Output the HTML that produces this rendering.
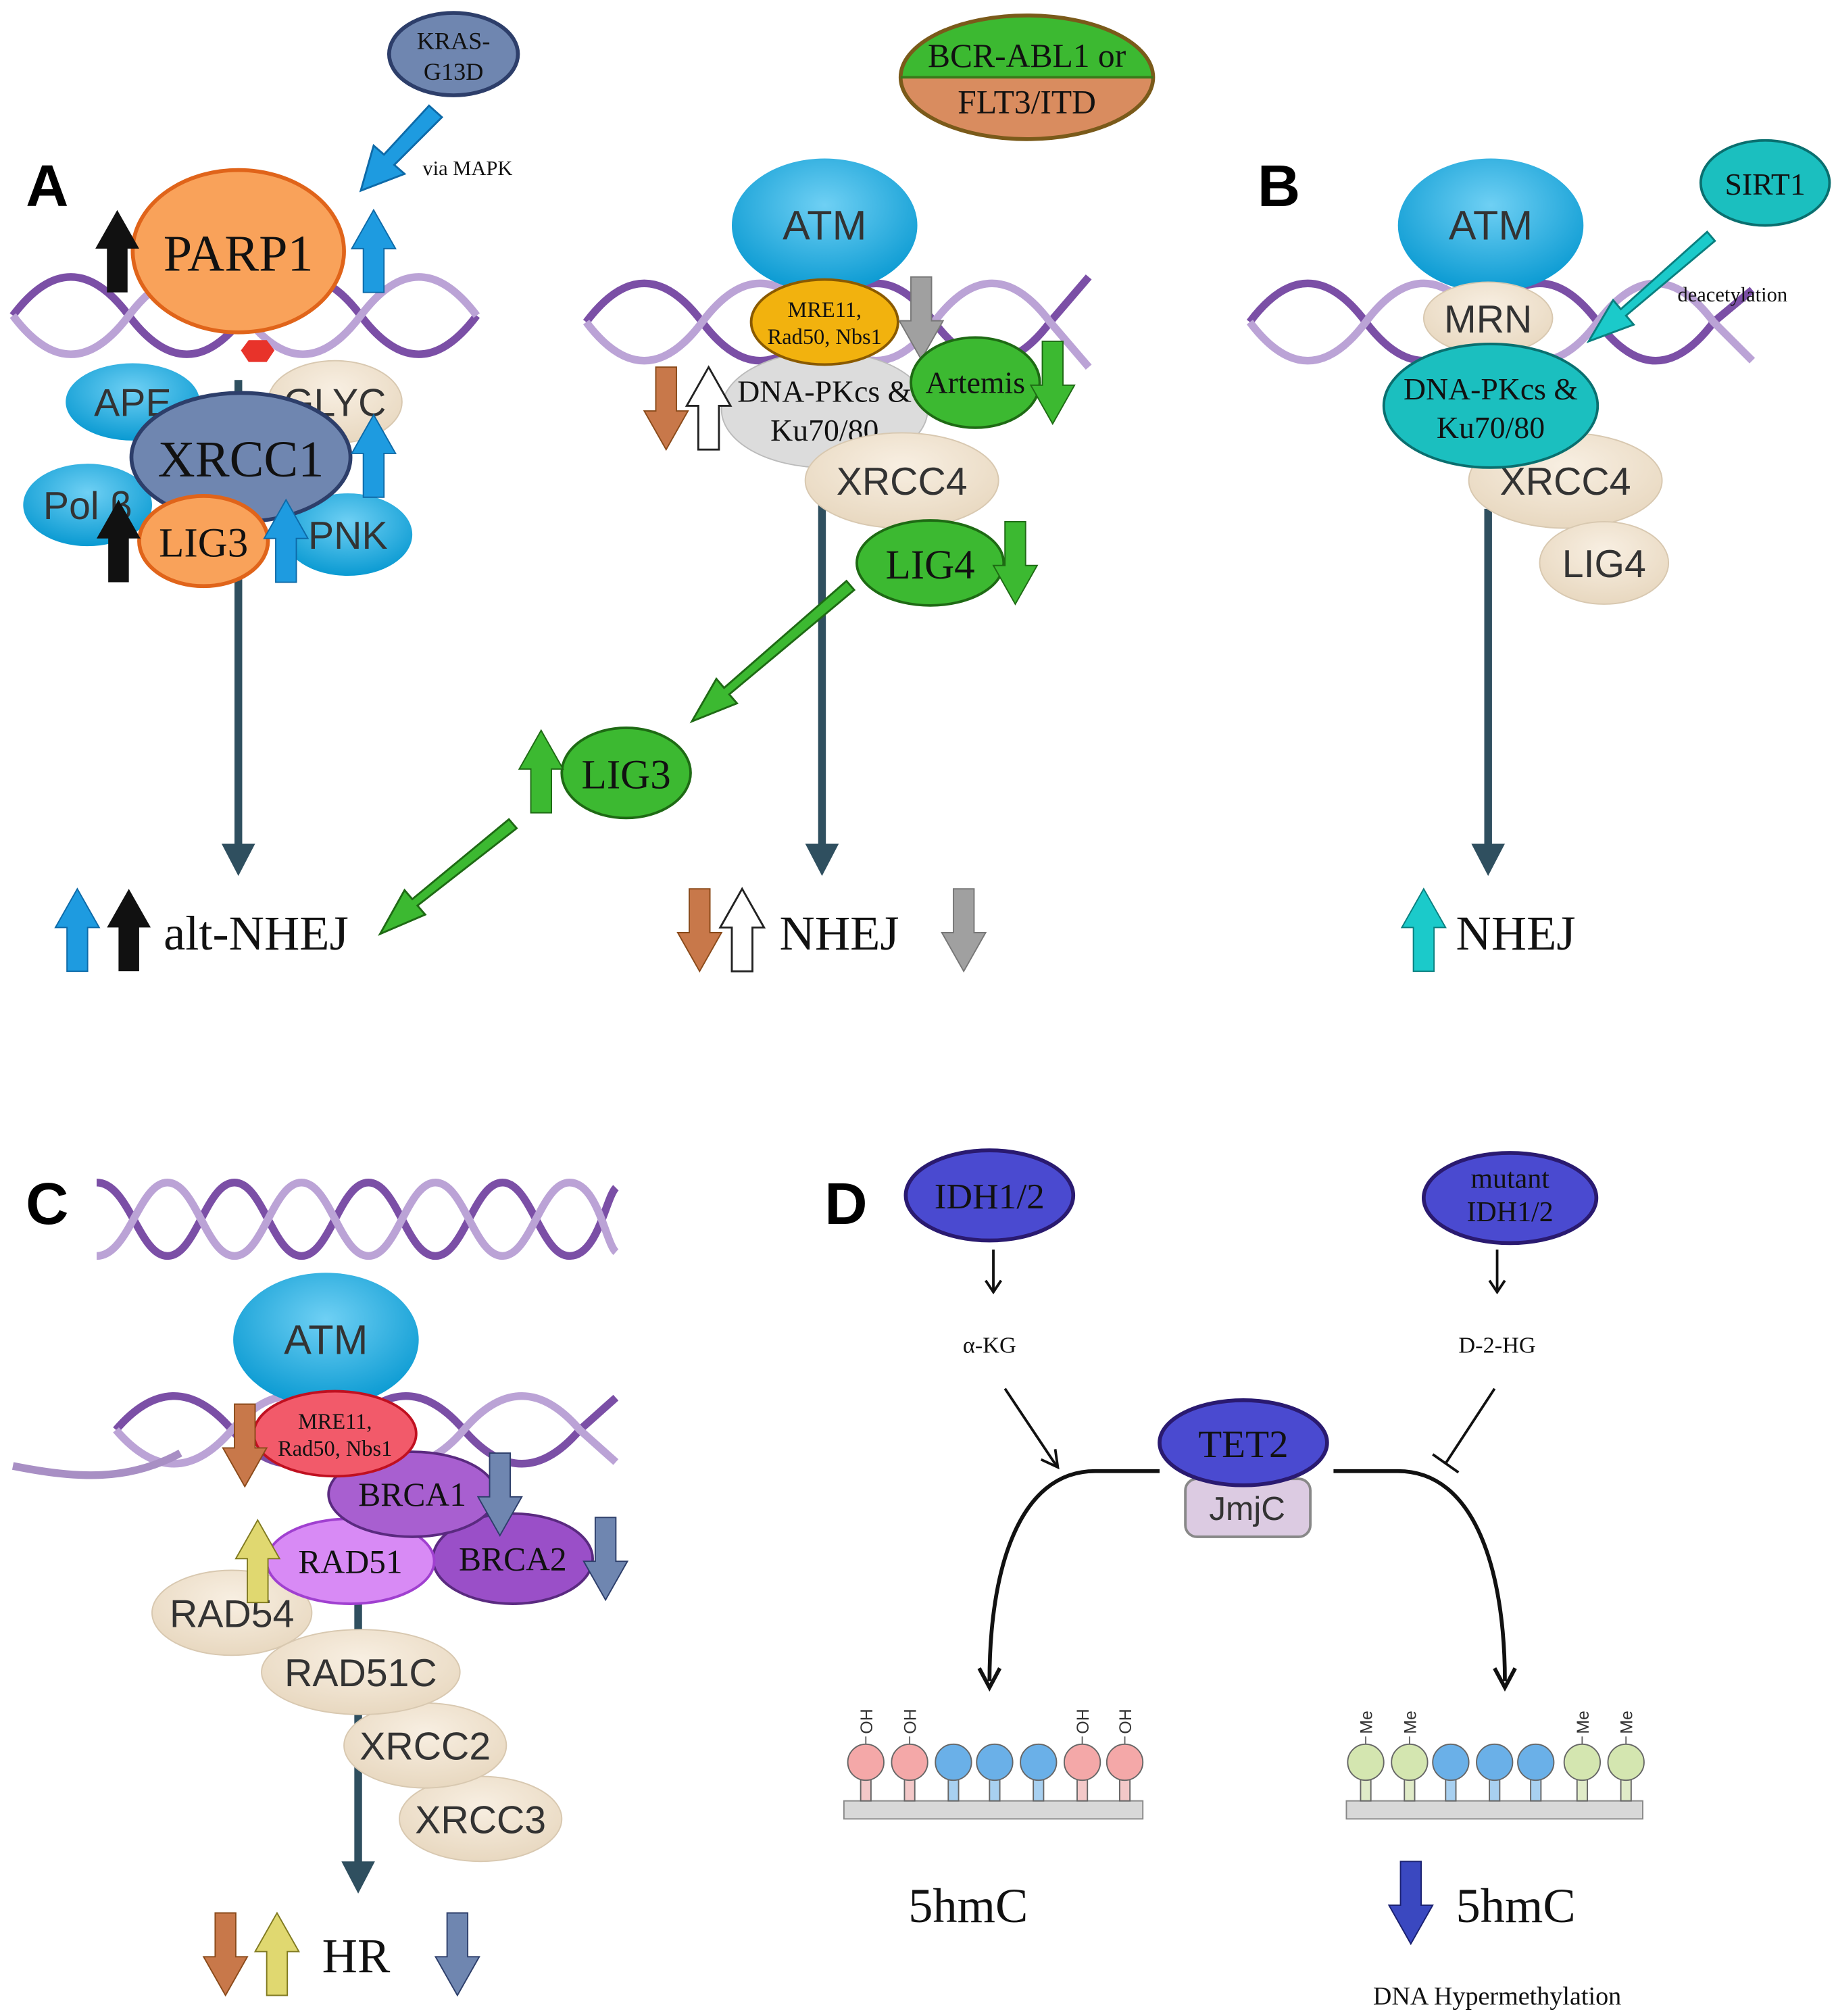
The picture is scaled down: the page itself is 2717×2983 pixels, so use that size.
<!DOCTYPE html>
<html><head><meta charset="utf-8"><style>
html,body{margin:0;padding:0;background:#fff}
svg{display:block}
.s{font-family:"Liberation Serif",serif;fill:#111}
.a{font-family:"Liberation Sans",sans-serif;fill:#333}
</style></head><body>
<svg width="2717" height="2983" viewBox="0 0 1425 1565" preserveAspectRatio="none" xmlns="http://www.w3.org/2000/svg">
<defs>
<radialGradient id="blue" cx="50%" cy="35%" r="65%"><stop offset="0" stop-color="#6fd0f4"/><stop offset="1" stop-color="#0a9ad2"/></radialGradient>
<radialGradient id="beige" cx="50%" cy="35%" r="65%"><stop offset="0" stop-color="#f8efe2"/><stop offset="1" stop-color="#e8d8c0"/></radialGradient>
<path id="up" d="M0,0 L17,30 L8,30 L8,64 L-8,64 L-8,30 L-17,30 Z"/>
<path id="dn" d="M0,64 L17,34 L8,34 L8,0 L-8,0 L-8,34 L-17,34 Z"/>
</defs>

<!-- Helices -->
<g fill="none" stroke-width="6">
<path d="M10,245 C40,205 70,205 100,245 S160,285 190,245 S250,205 280,245 S340,285 370,245" stroke="#7b4fa6"/>
<path d="M10,245 C40,285 70,285 100,245 S160,205 190,245 S250,285 280,245 S340,205 370,245" stroke="#bba3d6"/>
<path d="M455,250 C485,210 515,210 545,250 S605,290 635,250 S695,210 725,250 S785,290 815,250 L845,215" stroke="#7b4fa6"/>
<path d="M455,250 C485,290 515,290 545,250 S605,210 635,250 S695,290 725,250 S785,210 815,250 L845,285" stroke="#bba3d6"/>
<path d="M970,250 C1000,210 1030,210 1060,250 S1120,290 1150,250 S1210,210 1240,250 S1300,290 1330,250 L1360,225" stroke="#7b4fa6"/>
<path d="M970,250 C1000,290 1030,290 1060,250 S1120,210 1150,250 S1210,290 1240,250 S1300,210 1330,250 L1360,280" stroke="#bba3d6"/>
<path d="M75,918 C100,918 108,975 130,975 S160,918 182,918 S212,975 234,975 S264,918 286,918 S316,975 338,975 S368,918 390,918 S420,975 442,975 S470,930 478,922" stroke="#7b4fa6"/>
<path d="M75,975 C100,975 108,918 130,918 S160,975 182,975 S212,918 234,918 S264,975 286,975 S316,918 338,918 S368,975 390,975 S420,918 442,918 S470,965 478,972" stroke="#bba3d6"/>
<path d="M90,1110 C120,1075 150,1075 180,1110 S240,1145 270,1110 S330,1075 360,1110 S420,1145 450,1110 L478,1085" stroke="#7b4fa6"/>
<path d="M90,1110 C120,1145 150,1145 180,1110 S240,1075 270,1110 S330,1145 360,1110 S420,1075 450,1110 L478,1135" stroke="#bba3d6"/>
<path d="M10,1138 C60,1148 100,1150 140,1128" stroke="#a88fc4"/>
</g>

<g font-family="Liberation Sans,sans-serif" font-weight="bold" font-size="46" fill="#000">
<text x="20" y="160">A</text><text x="976" y="160">B</text><text x="20" y="950">C</text><text x="640" y="950">D</text>
</g>

<!-- Panel A -->
<line x1="185" y1="295" x2="185" y2="660" stroke="#2f4f5f" stroke-width="6"/>
<path d="M172,655 L198,655 L185,680Z" fill="#2f4f5f"/>
<ellipse cx="352" cy="42" rx="50" ry="32" fill="#6f86b0" stroke="#2d3e6a" stroke-width="3"/>
<text class="s" x="352" y="38" font-size="19" text-anchor="middle">KRAS-</text>
<text class="s" x="352" y="62" font-size="19" text-anchor="middle">G13D</text>
<path d="M333,82 L298,120 L290,113 L280,148 L314,135 L306,128 L343,91Z" fill="#1e9be0" stroke="#0d6aa8" stroke-width="1.5"/>
<text class="s" x="328" y="136" font-size="16">via MAPK</text>
<ellipse cx="185" cy="195" rx="82" ry="63" fill="#f9a25a" stroke="#e0641a" stroke-width="3"/>
<text class="s" x="185" y="210" font-size="40" text-anchor="middle">PARP1</text>
<polygon points="193,264 207,264 213,272 207,281 193,281 187,272" fill="#e8332a"/>
<use href="#up" x="91" y="163" fill="#111"/>
<use href="#up" x="290" y="163" fill="#1e9be0" stroke="#0d6aa8"/>
<ellipse cx="103" cy="312" rx="52" ry="30" fill="url(#blue)"/>
<text class="a" x="103" y="323" font-size="30" text-anchor="middle">APE</text>
<ellipse cx="260" cy="312" rx="52" ry="32" fill="url(#beige)" stroke="#d8c8b0"/>
<text class="a" x="260" y="323" font-size="30" text-anchor="middle">GLYC</text>
<ellipse cx="68" cy="392" rx="50" ry="32" fill="url(#blue)"/>
<text class="a" x="68" y="403" font-size="30" text-anchor="middle">Pol β</text>
<ellipse cx="270" cy="415" rx="50" ry="32" fill="url(#blue)"/>
<text class="a" x="270" y="426" font-size="30" text-anchor="middle">PNK</text>
<ellipse cx="187" cy="355" rx="85" ry="50" fill="#6f86b0" stroke="#2d3e6a" stroke-width="3"/>
<text class="s" x="187" y="370" font-size="40" text-anchor="middle">XRCC1</text>
<ellipse cx="158" cy="420" rx="50" ry="35" fill="#f9a25a" stroke="#e0641a" stroke-width="3"/>
<text class="s" x="158" y="432" font-size="32" text-anchor="middle">LIG3</text>
<use href="#up" x="290" y="322" fill="#1e9be0" stroke="#0d6aa8"/>
<use href="#up" x="92" y="388" fill="#111"/>
<use href="#up" x="222" y="388" fill="#1e9be0" stroke="#0d6aa8"/>
<use href="#up" x="60" y="690" fill="#1e9be0" stroke="#0d6aa8"/>
<use href="#up" x="100" y="690" fill="#111"/>
<text class="s" x="127" y="737" font-size="38">alt-NHEJ</text>

<!-- Middle -->
<path d="M699,60 A98,48 0 0 1 895,60Z" fill="#3cb931"/>
<path d="M699,60 A98,48 0 0 0 895,60Z" fill="#d98c5f"/>
<ellipse cx="797" cy="60" rx="98" ry="48" fill="none" stroke="#7a5a1a" stroke-width="3"/>
<line x1="699" y1="60" x2="895" y2="60" stroke="#3a7a1a" stroke-width="2"/>
<text class="s" x="797" y="52" font-size="26" text-anchor="middle">BCR-ABL1 or</text>
<text class="s" x="797" y="88" font-size="26" text-anchor="middle">FLT3/ITD</text>
<line x1="638" y1="390" x2="638" y2="660" stroke="#2f4f5f" stroke-width="6"/>
<path d="M625,655 L651,655 L638,680Z" fill="#2f4f5f"/>
<ellipse cx="640" cy="175" rx="72" ry="52" fill="url(#blue)"/>
<text class="a" x="640" y="186" font-size="32" text-anchor="middle">ATM</text>
<ellipse cx="640" cy="318" rx="80" ry="45" fill="#dcdcdc" stroke="#bbb"/>
<text class="s" x="640" y="312" font-size="24" text-anchor="middle">DNA-PKcs &amp;</text>
<text class="s" x="640" y="342" font-size="24" text-anchor="middle">Ku70/80</text>
<ellipse cx="640" cy="250" rx="57" ry="33" fill="#f2b20e" stroke="#8a5a00" stroke-width="2"/>
<text class="s" x="640" y="246" font-size="17" text-anchor="middle">MRE11,</text>
<text class="s" x="640" y="267" font-size="17" text-anchor="middle">Rad50, Nbs1</text>
<use href="#dn" x="715" y="215" fill="#a0a0a0" stroke="#777"/>
<ellipse cx="757" cy="297" rx="50" ry="35" fill="#3cb931" stroke="#1e6a14" stroke-width="2"/>
<text class="s" x="757" y="305" font-size="24" text-anchor="middle">Artemis</text>
<use href="#dn" x="817" y="265" fill="#3cb931" stroke="#1e6a14"/>
<use href="#dn" x="517" y="285" fill="#c8784a" stroke="#8a4a1a"/>
<use href="#up" x="550" y="285" fill="#fff" stroke="#222" stroke-width="1.5"/>
<ellipse cx="700" cy="373" rx="75" ry="37" fill="url(#beige)" stroke="#d8c8b0"/>
<text class="a" x="700" y="384" font-size="30" text-anchor="middle">XRCC4</text>
<ellipse cx="722" cy="437" rx="57" ry="33" fill="#3cb931" stroke="#1e6a14" stroke-width="2"/>
<text class="s" x="722" y="449" font-size="32" text-anchor="middle">LIG4</text>
<use href="#dn" x="788" y="405" fill="#3cb931" stroke="#1e6a14"/>
<path d="M657,451 L562,534 L556,527 L537,560 L572,546 L566,539 L663,458Z" fill="#3cb931" stroke="#1e6a14" stroke-width="1.5"/>
<ellipse cx="486" cy="600" rx="50" ry="35" fill="#3cb931" stroke="#1e6a14" stroke-width="2"/>
<text class="s" x="486" y="612" font-size="32" text-anchor="middle">LIG3</text>
<use href="#up" x="420" y="567" fill="#3cb931" stroke="#1e6a14"/>
<path d="M395,636 L320,698 L314,691 L295,725 L330,710 L324,703 L401,643Z" fill="#3cb931" stroke="#1e6a14" stroke-width="1.5"/>
<use href="#dn" x="543" y="690" fill="#c8784a" stroke="#8a4a1a"/>
<use href="#up" x="576" y="690" fill="#fff" stroke="#222" stroke-width="1.5"/>
<text class="s" x="605" y="737" font-size="38">NHEJ</text>
<use href="#dn" x="748" y="690" fill="#a0a0a0" stroke="#777"/>

<!-- Panel B -->
<line x1="1155" y1="395" x2="1155" y2="660" stroke="#2f4f5f" stroke-width="6"/>
<path d="M1142,655 L1168,655 L1155,680Z" fill="#2f4f5f"/>
<ellipse cx="1157" cy="175" rx="72" ry="52" fill="url(#blue)"/>
<text class="a" x="1157" y="186" font-size="32" text-anchor="middle">ATM</text>
<ellipse cx="1370" cy="142" rx="50" ry="33" fill="#1bbfbf" stroke="#0a6f6f" stroke-width="2"/>
<text class="s" x="1370" y="151" font-size="24" text-anchor="middle">SIRT1</text>
<path d="M1325,180 L1258,240 L1252,233 L1233,265 L1268,252 L1262,245 L1331,187Z" fill="#1bcaca" stroke="#0a7f7f" stroke-width="1.5"/>
<text class="s" x="1302" y="234" font-size="16">deacetylation</text>
<ellipse cx="1215" cy="373" rx="75" ry="37" fill="url(#beige)" stroke="#d8c8b0"/>
<text class="a" x="1215" y="384" font-size="30" text-anchor="middle">XRCC4</text>
<ellipse cx="1245" cy="437" rx="50" ry="32" fill="url(#beige)" stroke="#d8c8b0"/>
<text class="a" x="1245" y="448" font-size="30" text-anchor="middle">LIG4</text>
<ellipse cx="1155" cy="247" rx="50" ry="28" fill="url(#beige)" stroke="#d8c8b0"/>
<text class="a" x="1155" y="258" font-size="30" text-anchor="middle">MRN</text>
<ellipse cx="1157" cy="315" rx="83" ry="48" fill="#1bbfbf" stroke="#0a6f6f" stroke-width="2"/>
<text class="s" x="1157" y="310" font-size="24" text-anchor="middle">DNA-PKcs &amp;</text>
<text class="s" x="1157" y="340" font-size="24" text-anchor="middle">Ku70/80</text>
<use href="#up" x="1105" y="690" fill="#1bcaca" stroke="#0a7f7f"/>
<text class="s" x="1130" y="737" font-size="38">NHEJ</text>

<!-- Panel C -->
<line x1="278" y1="1245" x2="278" y2="1450" stroke="#2f4f5f" stroke-width="6"/>
<path d="M265,1445 L291,1445 L278,1470Z" fill="#2f4f5f"/>
<ellipse cx="253" cy="1040" rx="72" ry="52" fill="url(#blue)"/>
<text class="a" x="253" y="1051" font-size="32" text-anchor="middle">ATM</text>
<ellipse cx="373" cy="1412" rx="63" ry="33" fill="url(#beige)" stroke="#d8c8b0"/>
<text class="a" x="373" y="1423" font-size="30" text-anchor="middle">XRCC3</text>
<ellipse cx="330" cy="1355" rx="63" ry="33" fill="url(#beige)" stroke="#d8c8b0"/>
<text class="a" x="330" y="1366" font-size="30" text-anchor="middle">XRCC2</text>
<ellipse cx="280" cy="1298" rx="77" ry="33" fill="url(#beige)" stroke="#d8c8b0"/>
<text class="a" x="280" y="1309" font-size="30" text-anchor="middle">RAD51C</text>
<ellipse cx="180" cy="1252" rx="62" ry="33" fill="url(#beige)" stroke="#d8c8b0"/>
<text class="a" x="180" y="1263" font-size="30" text-anchor="middle">RAD54</text>
<ellipse cx="398" cy="1210" rx="62" ry="35" fill="#9a4fc8" stroke="#5a2a80" stroke-width="2"/>
<text class="s" x="398" y="1219" font-size="26" text-anchor="middle">BRCA2</text>
<ellipse cx="272" cy="1212" rx="65" ry="33" fill="#d88af5" stroke="#a040d0" stroke-width="2"/>
<text class="s" x="272" y="1221" font-size="26" text-anchor="middle">RAD51</text>
<ellipse cx="320" cy="1160" rx="65" ry="33" fill="#a85fd0" stroke="#5a2a80" stroke-width="2"/>
<text class="s" x="320" y="1169" font-size="26" text-anchor="middle">BRCA1</text>
<ellipse cx="260" cy="1113" rx="63" ry="33" fill="#f25a6a" stroke="#c01020" stroke-width="2"/>
<text class="s" x="260" y="1109" font-size="17" text-anchor="middle">MRE11,</text>
<text class="s" x="260" y="1130" font-size="17" text-anchor="middle">Rad50, Nbs1</text>
<use href="#dn" x="190" y="1090" fill="#c8784a" stroke="#8a4a1a"/>
<use href="#dn" x="388" y="1128" fill="#6f86b0" stroke="#2d3e6a"/>
<use href="#up" x="200" y="1180" fill="#e0d870" stroke="#807a20"/>
<use href="#dn" x="470" y="1178" fill="#6f86b0" stroke="#2d3e6a"/>
<use href="#dn" x="175" y="1485" fill="#c8784a" stroke="#8a4a1a"/>
<use href="#up" x="215" y="1485" fill="#e0d870" stroke="#807a20"/>
<text class="s" x="250" y="1531" font-size="38">HR</text>
<use href="#dn" x="355" y="1485" fill="#6f86b0" stroke="#2d3e6a"/>

<!-- Panel D -->
<ellipse cx="768" cy="928" rx="65" ry="35" fill="#4a4ad0" stroke="#2a1a70" stroke-width="3"/>
<text class="s" x="768" y="938" font-size="28" text-anchor="middle">IDH1/2</text>
<ellipse cx="1172" cy="930" rx="67" ry="35" fill="#4a4ad0" stroke="#2a1a70" stroke-width="3"/>
<text class="s" x="1172" y="922" font-size="22" text-anchor="middle">mutant</text>
<text class="s" x="1172" y="948" font-size="22" text-anchor="middle">IDH1/2</text>
<g stroke="#111" stroke-width="2" fill="none">
<line x1="771" y1="970" x2="771" y2="1002"/><path d="M765,994 L771,1003 L777,994"/>
<line x1="1162" y1="970" x2="1162" y2="1002"/><path d="M1156,994 L1162,1003 L1168,994"/>
<line x1="780" y1="1078" x2="820" y2="1138"/><path d="M808,1133 L821,1139 L819,1125"/>
<line x1="1160" y1="1078" x2="1122" y2="1136"/><line x1="1112" y1="1129" x2="1132" y2="1143"/>
<path d="M900,1142 L850,1142 C790,1142 768,1220 768,1305" stroke-width="3"/>
<path d="M760,1295 L768,1310 L776,1295" stroke-width="3"/>
<path d="M1035,1142 L1085,1142 C1145,1142 1168,1220 1168,1305" stroke-width="3"/>
<path d="M1160,1295 L1168,1310 L1176,1295" stroke-width="3"/>
</g>
<text class="s" x="768" y="1050" font-size="18" text-anchor="middle">α-KG</text>
<text class="s" x="1162" y="1050" font-size="18" text-anchor="middle">D-2-HG</text>
<rect x="920" y="1148" width="97" height="45" rx="9" fill="#dccbe2" stroke="#888" stroke-width="2"/>
<text class="a" x="968" y="1180" font-size="26" text-anchor="middle">JmjC</text>
<ellipse cx="965" cy="1120" rx="65" ry="33" fill="#4a4ad0" stroke="#2a1a70" stroke-width="3"/>
<text class="s" x="965" y="1131" font-size="30" text-anchor="middle">TET2</text>

<rect x="655" y="1398" width="232" height="14" fill="#d8d8d8" stroke="#888"/>
<g stroke="#666" stroke-width="1">
<rect x="668" y="1380" width="8" height="18" fill="#f3c8c8"/><circle cx="672" cy="1368" r="14" fill="#f4a8a8"/>
<rect x="702" y="1380" width="8" height="18" fill="#f3c8c8"/><circle cx="706" cy="1368" r="14" fill="#f4a8a8"/>
<rect x="736" y="1380" width="8" height="18" fill="#a8d0f0"/><circle cx="740" cy="1368" r="14" fill="#6ab0e8"/>
<rect x="768" y="1380" width="8" height="18" fill="#a8d0f0"/><circle cx="772" cy="1368" r="14" fill="#6ab0e8"/>
<rect x="802" y="1380" width="8" height="18" fill="#a8d0f0"/><circle cx="806" cy="1368" r="14" fill="#6ab0e8"/>
<rect x="836" y="1380" width="8" height="18" fill="#f3c8c8"/><circle cx="840" cy="1368" r="14" fill="#f4a8a8"/>
<rect x="869" y="1380" width="8" height="18" fill="#f3c8c8"/><circle cx="873" cy="1368" r="14" fill="#f4a8a8"/>
<line x1="672" y1="1354" x2="672" y2="1348"/><line x1="706" y1="1354" x2="706" y2="1348"/>
<line x1="840" y1="1354" x2="840" y2="1348"/><line x1="873" y1="1354" x2="873" y2="1348"/>
</g>
<g class="a" font-size="13">
<text transform="translate(677,1346) rotate(-90)">OH</text><text transform="translate(711,1346) rotate(-90)">OH</text>
<text transform="translate(845,1346) rotate(-90)">OH</text><text transform="translate(878,1346) rotate(-90)">OH</text>
</g>
<rect x="1045" y="1398" width="230" height="14" fill="#d8d8d8" stroke="#888"/>
<g stroke="#666" stroke-width="1">
<rect x="1056" y="1380" width="8" height="18" fill="#e0ebc8"/><circle cx="1060" cy="1368" r="14" fill="#d4e6b0"/>
<rect x="1090" y="1380" width="8" height="18" fill="#e0ebc8"/><circle cx="1094" cy="1368" r="14" fill="#d4e6b0"/>
<rect x="1122" y="1380" width="8" height="18" fill="#a8d0f0"/><circle cx="1126" cy="1368" r="14" fill="#6ab0e8"/>
<rect x="1156" y="1380" width="8" height="18" fill="#a8d0f0"/><circle cx="1160" cy="1368" r="14" fill="#6ab0e8"/>
<rect x="1188" y="1380" width="8" height="18" fill="#a8d0f0"/><circle cx="1192" cy="1368" r="14" fill="#6ab0e8"/>
<rect x="1224" y="1380" width="8" height="18" fill="#e0ebc8"/><circle cx="1228" cy="1368" r="14" fill="#d4e6b0"/>
<rect x="1258" y="1380" width="8" height="18" fill="#e0ebc8"/><circle cx="1262" cy="1368" r="14" fill="#d4e6b0"/>
<line x1="1060" y1="1354" x2="1060" y2="1348"/><line x1="1094" y1="1354" x2="1094" y2="1348"/>
<line x1="1228" y1="1354" x2="1228" y2="1348"/><line x1="1262" y1="1354" x2="1262" y2="1348"/>
</g>
<g class="a" font-size="13">
<text transform="translate(1065,1346) rotate(-90)">Me</text><text transform="translate(1099,1346) rotate(-90)">Me</text>
<text transform="translate(1233,1346) rotate(-90)">Me</text><text transform="translate(1267,1346) rotate(-90)">Me</text>
</g>
<text class="s" x="705" y="1492" font-size="38">5hmC</text>
<use href="#dn" x="1095" y="1445" fill="#3a48c0" stroke="#1a2070"/>
<text class="s" x="1130" y="1492" font-size="38">5hmC</text>
<text class="s" x="1162" y="1556" font-size="20" text-anchor="middle">DNA Hypermethylation</text>
</svg>
</body></html>
